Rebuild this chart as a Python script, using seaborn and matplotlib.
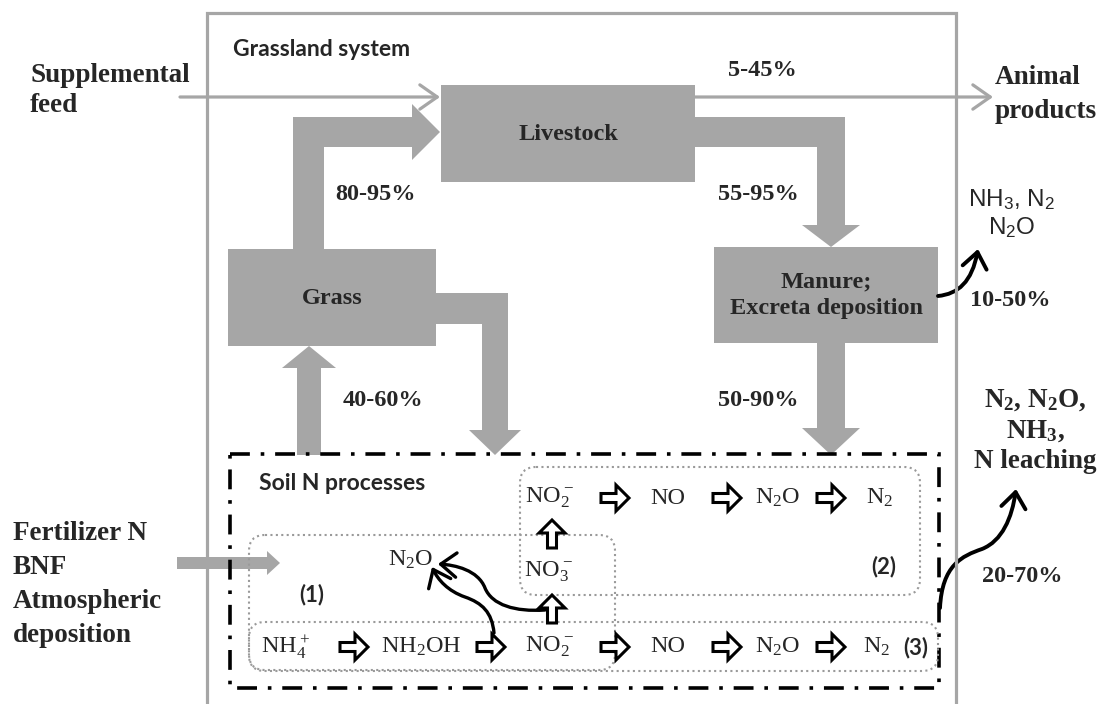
# Grassland N flow diagram

import matplotlib.pyplot as plt
import seaborn as sns
from matplotlib.patches import Rectangle, Polygon, FancyArrow, FancyArrowPatch, FancyBboxPatch
from matplotlib.path import Path

# --------------------------- DATA ---------------------------

box_labels = ["Livestock", "Grass", "Manure;\nExcreta deposition"]
flow_labels = ["80-95%", "5-45%", "55-95%", "40-60%", "50-90%", "10-50%", "20-70%"]
inputs_left = ["Supplemental", "feed"]
inputs_soil = ["Fertilizer N", "BNF", "Atmospheric", "deposition"]
outputs_top = ["Animal", "products"]
gas_manure = ["NH$_3$, N$_2$", "N$_2$O"]
loss_soil = ["N$_2$, N$_2$O,", "NH$_3$,", "N leaching"]
row_top = ["NO$_2^-$", "NO", "N$_2$O", "N$_2$"]
row_bottom = ["NH$_4^+$", "NH$_2$OH", "NO$_2^-$", "NO", "N$_2$O", "N$_2$"]
mid_species = ["NO$_3^-$", "N$_2$O"]
pathway_ids = ["(1)", "(2)", "(3)"]

# --------------------------- SETUP ---------------------------

sns.set_theme(style="white")
plt.rcParams["font.family"] = ["Liberation Serif", "DejaVu Sans"]
plt.rcParams["mathtext.default"] = "regular"

GREY = "#a6a6a6"
SANS = "Lato"

fig = plt.figure(figsize=(11.03, 7.04), dpi=100)
ax = fig.add_axes([0, 0, 1, 1])
ax.set_xlim(0, 1103)
ax.set_ylim(704, 0)
ax.axis("off")


def block(x0, x1, y0, y1):
    ax.add_patch(Rectangle((x0, y0), x1 - x0, y1 - y0, fc=GREY, ec="none"))


def head(pts):
    ax.add_patch(Polygon(pts, closed=True, fc=GREY, ec="none"))


def hollow(x, y, dx, dy):
    ax.add_patch(FancyArrow(x, y, dx, dy, width=9, head_width=26, head_length=13,
                            length_includes_head=True, fc="white", ec="black", lw=2.2))


def curve(verts, lw=2.8):
    codes = [Path.MOVETO] + [Path.CURVE4] * (len(verts) - 1)
    ax.add_patch(FancyArrowPatch(path=Path(verts, codes),
                                 arrowstyle="->,head_length=0.45,head_width=0.35",
                                 mutation_scale=25, lw=lw, color="black"))


# --------------------------- OUTER SYSTEM ---------------------------

ax.plot([207, 207, 956, 956], [704, 13, 13, 704], color=GREY, lw=2.3, solid_joinstyle="miter")
ax.text(233, 50, "Grassland system", family=SANS, fontsize=16.5, weight="bold", va="center")

# supplemental feed / animal products (thin arrows)
for x0, x1 in [(180, 440), (695, 993)]:
    ax.add_patch(FancyArrowPatch((x0, 97), (x1, 97), arrowstyle="->,head_length=0.5,head_width=0.35",
                                 mutation_scale=25, lw=2.3, color=GREY, shrinkA=0, shrinkB=0))

ax.text(30, 75, inputs_left[0], fontsize=19.5, weight="bold", va="center")
ax.text(30, 105, inputs_left[1], fontsize=19.5, weight="bold", va="center")
ax.text(995, 78, outputs_top[0], fontsize=19.5, weight="bold", va="center")
ax.text(995, 111, outputs_top[1], fontsize=19.5, weight="bold", va="center")

# --------------------------- BIG FLOWS ---------------------------

# grass -> livestock
block(293, 324, 117, 250)
block(293, 412, 117, 147)
head([(412, 104), (412, 160), (440, 132)])
# livestock -> manure
block(695, 845, 117, 147)
block(817, 845, 117, 225)
head([(802, 225), (860, 225), (831, 247)])
# manure -> soil
block(817, 845, 343, 428)
head([(802, 428), (860, 428), (831, 455)])
# grass -> soil
block(436, 508, 293, 324)
block(482, 508, 293, 430)
head([(469, 430), (521, 430), (495, 455)])
# soil -> grass
block(297, 321, 368, 455)
head([(282, 368), (336, 368), (309, 346)])
# fertilizer -> soil
block(177, 267, 557, 569)
head([(267, 551), (267, 575), (280, 563)])

# boxes
block(441, 695, 85, 182)
block(228, 436, 249, 346)
block(714, 938, 247, 343)
ax.text(568, 134, box_labels[0], fontsize=17.5, weight="bold", ha="center", va="center")
ax.text(332, 299, box_labels[1], fontsize=17.5, weight="bold", ha="center", va="center")
ax.text(826, 295, box_labels[2], fontsize=17.5, weight="bold", ha="center", va="center",
        linespacing=1.35)

# flow percentages
pct_xy = [(375, 195), (762, 70), (758, 195), (383, 400), (758, 400), (1010, 300), (1022, 576)]
for lab, (x, y) in zip(flow_labels, pct_xy):
    ax.text(x, y, lab, fontsize=17.5, weight="bold", ha="center", va="center")

# gaseous losses from manure
ax.text(1012, 200, gas_manure[0], family="Liberation Sans", fontsize=17.5, ha="center", va="center")
ax.text(1012, 228, gas_manure[1], family="Liberation Sans", fontsize=17.5, ha="center", va="center")
curve([(938, 296), (958, 294), (972, 282), (978, 249)])

# soil losses
for lab, y in zip(loss_soil, [400, 431, 462]):
    ax.text(1035, y, lab, fontsize=19.5, weight="bold", ha="center", va="center")
curve([(940, 608), (942, 565), (962, 556), (982, 549), (1002, 541), (1012, 518), (1016, 489)])

# soil inputs
for lab, y in zip(inputs_soil, [533, 567, 601, 635]):
    ax.text(13, y, lab, fontsize=19.5, weight="bold", va="center")

# --------------------------- SOIL N PROCESSES ---------------------------

ax.add_patch(Rectangle((230, 454), 709, 234, fill=False, ec="black", lw=2.6,
                       ls=(0, (5.5, 3, 1, 3))))
ax.text(259, 484, "Soil N processes", family=SANS, fontsize=16.5, weight="bold", va="center")

for (x0, y0, x1, y1) in [(520, 467, 920, 595), (249, 535, 615, 670), (249, 622, 938, 671)]:
    ax.add_patch(FancyBboxPatch((x0, y0), x1 - x0, y1 - y0,
                                boxstyle="round,pad=0,rounding_size=16",
                                fill=False, ec="#9a9a9a", lw=1.5, ls=(0, (1, 1.6))))

# top row (denitrification)
for lab, x in zip(row_top, [550, 668, 778, 880]):
    ax.text(x, 498, lab, fontsize=17.5, ha="center", va="center")
for x in [615, 727, 831]:
    hollow(x - 14, 498, 28, 0)

# bottom row (nitrification + nitrifier denitrification)
for lab, x in zip(row_bottom, [286, 421, 550, 668, 778, 877]):
    ax.text(x, 647, lab, fontsize=17.5, ha="center", va="center")
for x in [354, 491, 615, 727, 831]:
    hollow(x - 14, 647, 28, 0)

# vertical steps NO2- -> NO3- -> NO2-
hollow(552, 623, 0, -28)
hollow(552, 548, 0, -28)
ax.text(549, 572, mid_species[0], fontsize=17.5, ha="center", va="center")
ax.text(411, 560, mid_species[1], fontsize=17.5, ha="center", va="center")

for lab, (x, y) in zip(pathway_ids, [(312, 595), (884, 567), (916, 648)]):
    ax.text(x, y, lab, family=SANS, fontsize=16, weight="bold", ha="center", va="center")

# N2O side pathways
curve([(494, 633), (492, 612), (482, 603), (465, 597), (448, 591), (438, 580), (432, 567)], lw=2.4)
curve([(545, 610), (515, 612), (492, 605), (485, 588), (478, 570), (455, 565), (438, 564)], lw=2.4)

plt.savefig("out.png", dpi=100)
